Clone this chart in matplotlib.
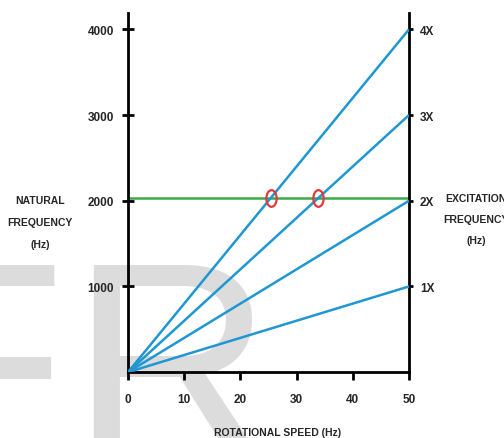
import matplotlib
matplotlib.use("Agg")
from matplotlib import pyplot as plt
from matplotlib.path import Path
from matplotlib.transforms import Affine2D
import numpy as np

# rotational speed range (Hz)
speed = [0, 50]
# excitation lines: order of running speed and value at 50 Hz
order_labels = ["1X", "2X", "3X", "4X"]
excitation_at_max = [1000, 2000, 3000, 4000]
# natural frequency of the part (Hz)
natural_freq = 2030

x_ticks = [0, 10, 20, 30, 40, 50]
y_ticks = [1000, 2000, 3000, 4000]

BLUE = "#1f97d3"
GREEN = "#3aaa48"
RED = "#e03a3e"
TXT = "#262626"

plt.rcParams["font.family"] = ["Liberation Sans", "DejaVu Sans"]

fig = plt.figure(figsize=(5.04, 4.39), dpi=100)

# watermark letters behind the chart
fig.text(-0.21, -0.041, "F", fontsize=201, color="#dcdcdc",
         ha="left", va="baseline", zorder=0)
fig.text(0.139, -0.041, "R", fontsize=201, color="#dcdcdc",
         ha="left", va="baseline", zorder=0)

ax = fig.add_axes([0.254, 0.150, 0.5575, 0.818])
ax.set_zorder(1)
ax.patch.set_visible(False)

for val in excitation_at_max:
    ax.plot(speed, [0, val], color=BLUE, lw=1.8, solid_capstyle="butt", zorder=3)

ax.plot(speed, [natural_freq, natural_freq], color=GREEN, lw=1.8, zorder=2)

# crossings of the natural frequency with the 3X and 4X lines
slopes = np.array(excitation_at_max) / speed[1]
crossings = [natural_freq / s for s in slopes if natural_freq / s <= speed[1]]
ellipse = Path.unit_circle().transformed(Affine2D().scale(0.62, 1.0))
ax.plot(crossings, [natural_freq] * len(crossings), linestyle="none",
        marker=ellipse, markersize=12, markerfacecolor="none",
        markeredgecolor=RED, markeredgewidth=1.6, zorder=4)

ax.set_xlim(0, 50)
ax.set_ylim(0, 4190)
ax.spines["top"].set_visible(False)
for side in ["left", "right", "bottom"]:
    ax.spines[side].set_linewidth(2.0)
    ax.spines[side].set_color("black")

ax.set_xticks(x_ticks)
ax.set_yticks(y_ticks)
ax.tick_params(axis="x", direction="out", length=6, width=2, pad=9,
               labelsize=8.5, labelcolor=TXT)
ax.tick_params(axis="y", direction="inout", length=8, width=2, pad=6,
               labelsize=8.5, labelcolor=TXT)
for lbl in ax.get_xticklabels() + ax.get_yticklabels():
    lbl.set_fontweight("bold")

ax2 = ax.twinx()
ax2.set_zorder(2)
ax2.set_ylim(ax.get_ylim())
ax2.set_yticks(excitation_at_max)
ax2.set_yticklabels(order_labels, fontweight="bold")
ax2.tick_params(axis="y", direction="out", length=3, width=2, pad=5,
                labelsize=8.5, labelcolor=TXT)
for s in ax2.spines.values():
    s.set_visible(False)

fig.text(0.079, 0.492, "NATURAL\nFREQUENCY\n(Hz)", ha="center", va="center",
         fontsize=7.5, fontweight="bold", color=TXT, linespacing=2.5, zorder=3)
fig.text(0.88, 0.499, "EXCITATION\nFREQUENCY\n(Hz)", ha="left", va="center",
         fontsize=7.5, fontweight="bold", color=TXT, linespacing=2.4,
         multialignment="center", zorder=3)
fig.text(0.55, 0.014, "ROTATIONAL SPEED (Hz)", ha="center", va="center",
         fontsize=7.5, fontweight="bold", color=TXT, zorder=3)

fig.savefig("out.png", dpi=100)
